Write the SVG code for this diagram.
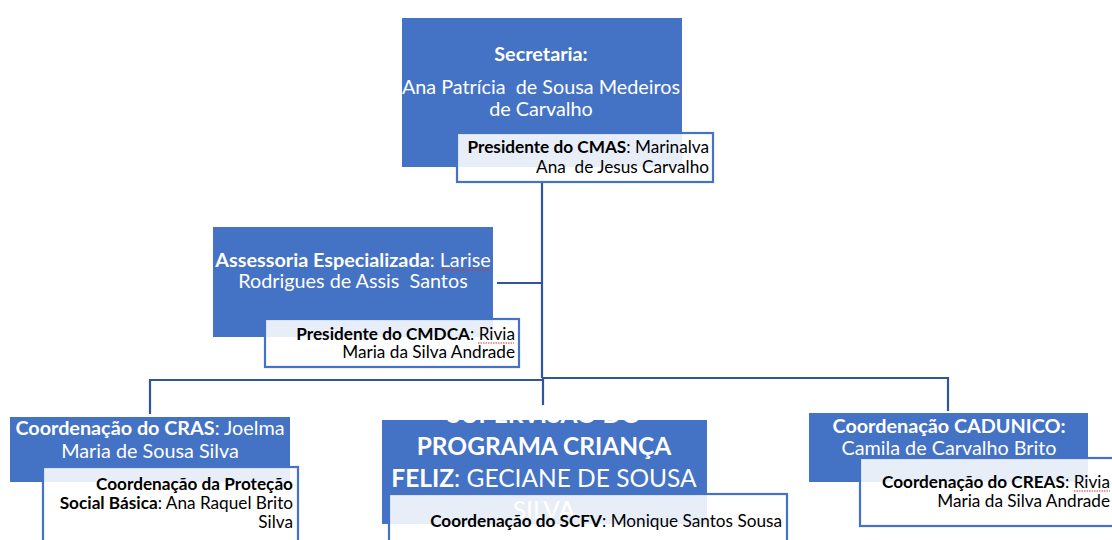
<svg xmlns="http://www.w3.org/2000/svg" width="1112" height="540" viewBox="0 0 1112 540">
<style>
.blue{fill:#4472C4;}
.card{fill:#FFFFFF;fill-opacity:0.88;stroke:#4472C4;stroke-width:2.2;}
.conn{fill:none;stroke:#2F559A;stroke-width:2.2;}
text{font-family:Lato,"Open Sans",sans-serif;white-space:pre;}
.w{fill:#FFFFFF;}
.k{fill:#000000;}
.b{font-weight:bold;}
.t1{font-size:19.8px;}
.t2{font-size:17.2px;}
.t3{font-size:24.5px;}
.sq{fill:none;stroke:#E03030;stroke-width:1;stroke-dasharray:1.5 1;}
</style>
<rect x="0" y="0" width="1112" height="540" fill="#FFFFFF"/>
<g id="connectors">
<path class="conn" d="M542 182 V378"/>
<path class="conn" d="M497 283 H542"/>
<path class="conn" d="M150 414 V380 H542"/>
<path class="conn" d="M542 378 H948 V411"/>
<path class="conn" d="M543 378 V406"/>
</g>
<g id="secretaria">
<rect class="blue" x="402" y="18" width="280" height="149"/>
<text class="t1 w b" x="541" y="61" text-anchor="middle">Secretaria:</text>
<text class="t1 w" x="541" y="94" text-anchor="middle">Ana Patrícia  de Sousa Medeiros</text>
<text class="t1 w" x="541" y="116" text-anchor="middle">de Carvalho</text>
</g>
<g id="cmas">
<rect class="card" x="457" y="133" width="256" height="49"/>
<text class="t2 k" x="709" y="153" text-anchor="end"><tspan class="b">Presidente do CMAS</tspan>: Marinalva</text>
<text class="t2 k" x="709" y="173" text-anchor="end">Ana  de Jesus Carvalho</text>
</g>
<g id="assessoria">
<rect class="blue" x="213" y="227" width="280" height="110"/>
<text class="t1 w" x="353" y="267" text-anchor="middle"><tspan class="b">Assessoria Especializada</tspan>: Larise</text>
<text class="t1 w" x="353" y="288" text-anchor="middle">Rodrigues de Assis  Santos</text>
<path class="sq" d="M440 270 H490"/>
</g>
<g id="cmdca">
<rect class="card" x="265" y="319" width="254" height="48"/>
<text class="t2 k" x="515" y="340" text-anchor="end"><tspan class="b">Presidente do CMDCA</tspan>: Rivia</text>
<text class="t2 k" x="515" y="358" text-anchor="end">Maria da Silva Andrade</text>
<path class="sq" d="M478 343 H514"/>
</g>
<g id="cras">
<rect class="blue" x="10" y="417" width="280" height="65"/>
<text class="t1 w" x="150" y="435" text-anchor="middle"><tspan class="b">Coordenação do CRAS</tspan>: Joelma</text>
<text class="t1 w" x="150" y="458" text-anchor="middle">Maria de Sousa Silva</text>
</g>
<g id="protecao">
<rect class="card" x="43" y="467" width="255" height="80"/>
<text class="t2 k b" x="293" y="490" text-anchor="end">Coordenação da Proteção</text>
<text class="t2 k" x="293" y="509" text-anchor="end"><tspan class="b">Social Básica</tspan>: Ana Raquel Brito</text>
<text class="t2 k" x="293" y="528" text-anchor="end">Silva</text>
</g>
<g id="crianca-feliz">
<rect class="blue" x="382" y="420" width="325" height="104"/>
<text class="t3 w b" x="544" y="423" text-anchor="middle">SUPERVISÃO DO</text>
<text class="t3 w b" x="544" y="455" text-anchor="middle">PROGRAMA CRIANÇA</text>
<text class="t3 w" x="544" y="487" text-anchor="middle"><tspan class="b">FELIZ</tspan>: GECIANE DE SOUSA</text>
<text class="t3 w" x="544" y="519" text-anchor="middle">SILVA</text>
</g>
<g id="scfv">
<rect class="card" x="389" y="494" width="398" height="60"/>
<text class="t2 k" x="782" y="527" text-anchor="end"><tspan class="b">Coordenação do SCFV</tspan>: Monique Santos Sousa</text>
</g>
<g id="cadunico">
<rect class="blue" x="809" y="413" width="279" height="69"/>
<text class="t1 w b" x="949" y="433" text-anchor="middle">Coordenação CADUNICO:</text>
<text class="t1 w" x="949" y="455" text-anchor="middle">Camila de Carvalho Brito</text>
</g>
<g id="creas">
<rect class="card" x="860" y="458" width="270" height="68"/>
<text class="t2 k" x="1110" y="488" text-anchor="end"><tspan class="b">Coordenação do CREAS</tspan>: Rivia</text>
<text class="t2 k" x="1110" y="507" text-anchor="end">Maria da Silva Andrade</text>
<path class="sq" d="M1074 491 H1110"/>
</g>
</svg>
